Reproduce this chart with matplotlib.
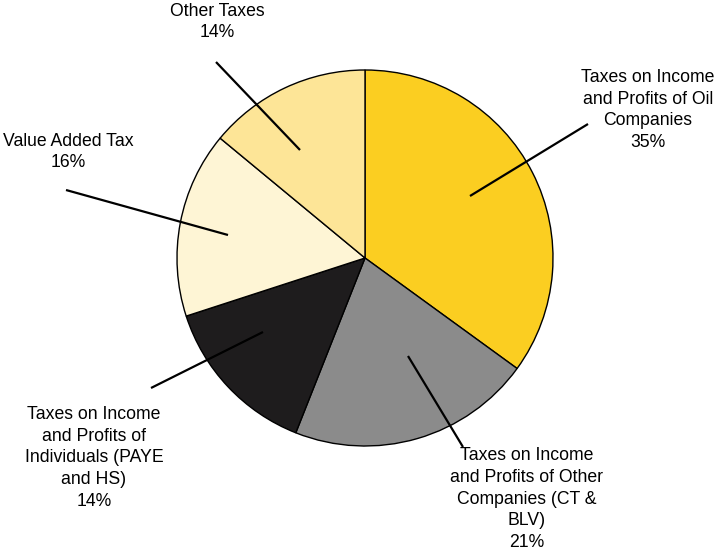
import matplotlib.pyplot as plt

plt.rcParams['font.family'] = ['Liberation Sans', 'DejaVu Sans']

# revenue shares, clockwise from 12 o'clock
labels = ['Taxes on Income\nand Profits of Oil\nCompanies',
          'Taxes on Income\nand Profits of Other\nCompanies (CT &\nBLV)',
          'Taxes on Income\nand Profits of\nIndividuals (PAYE\nand HS)',
          'Value Added Tax',
          'Other Taxes']
shares = [35, 21, 14, 16, 14]
colors = ['#FBCE21', '#8B8B8B', '#1E1C1D', '#FEF5D5', '#FDE597']

# layout in pixel units (y measured from the top)
W, H = 715, 550
cx, cy, rad = 365, 258, 188
line_start = [(470, 196), (408, 356), (263, 332), (228, 235), (300, 150)]
line_end = [(588, 124), (463, 447), (151, 388), (66, 190), (216, 62)]
text_pos = [(648, 110), (527, 499), (94, 458), (68, 152), (217, 22)]

fig = plt.figure(figsize=(W / 100, H / 100), dpi=100)
ax = fig.add_axes([0, 0, 1, 1])

ax.pie(shares, colors=colors, startangle=90, counterclock=False,
       center=(cx, H - cy), radius=rad, frame=True,
       wedgeprops=dict(edgecolor='#000000', linewidth=1.0))
ax.set_xlim(0, W)
ax.set_ylim(0, H)
ax.set_aspect('equal')
ax.axis('off')

for lab, val, (x0, y0), (x1, y1), (tx, ty) in zip(labels, shares, line_start, line_end, text_pos):
    ax.plot([x0, x1], [H - y0, H - y1], color='black', linewidth=1.6,
            solid_capstyle='butt')
    ax.text(tx, H - ty, f'{lab}\n{val}%', ha='center', va='center',
            fontsize=12.7, linespacing=1.36, color='black')

fig.savefig('out.png', dpi=100)
